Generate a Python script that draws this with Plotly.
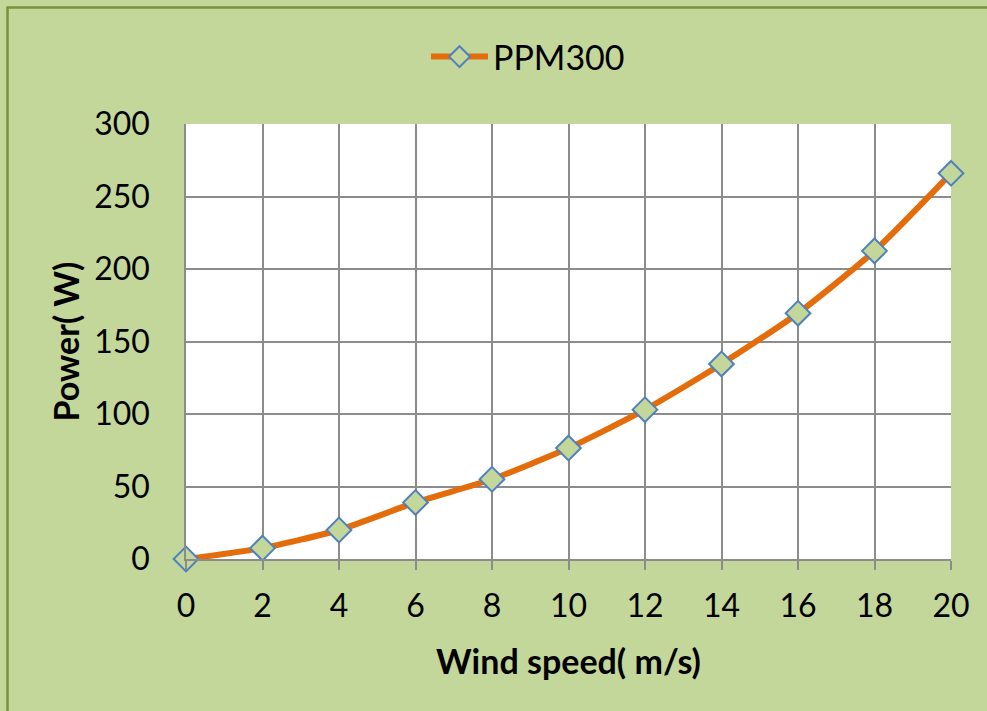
import plotly.graph_objects as go

wind_speed = [0, 2, 4, 6, 8, 10, 12, 14, 16, 18, 20]
power = [0, 7.5, 20, 39, 55, 76.5, 103, 134.5, 169.5, 212.5, 266]
series_name = "PPM300"

BG = "#c4d79b"
FONT = "Lato"

L, R, T, B = 186, 36, 124, 152
W, H = 987, 711
PW, PH = W - L - R, H - T - B

fig = go.Figure()
fig.add_trace(go.Scatter(
    x=wind_speed, y=power, name=series_name,
    mode="lines+markers",
    line=dict(color="#e46c0a", width=6, shape="spline", smoothing=0.6),
    marker=dict(symbol="diamond", size=19, color=BG,
                line=dict(color="#4f81bd", width=2)),
    cliponaxis=False,
))

fig.update_layout(
    width=W, height=H,
    margin=dict(l=L, r=R, t=T, b=B, autoexpand=False),
    paper_bgcolor=BG, plot_bgcolor="white",
    font=dict(family=FONT, size=32, color="black"),
    showlegend=True,
    legend=dict(orientation="h", xref="container", yref="container",
                x=426 / W, xanchor="left", y=1 - 57 / H, yanchor="middle",
                itemwidth=57,
                bgcolor="rgba(0,0,0,0)", font=dict(size=34)),
    xaxis=dict(
        range=[0, 20], tickvals=wind_speed, ticktext=[str(v) for v in wind_speed],
        showgrid=True, gridcolor="#8c8c8c", gridwidth=1.5,
        showline=True, linecolor="#8c8c8c", linewidth=1.5, mirror=False,
        ticks="outside", ticklen=9, tickcolor="#8c8c8c", tickwidth=1.5,
        ticklabelstandoff=9,
        zeroline=False, automargin=False,
        title=dict(text="<b>Wind speed( m/s)</b>", font=dict(size=34), standoff=27),
    ),
    yaxis=dict(
        range=[0, 300], tickvals=[0, 50, 100, 150, 200, 250, 300],
        showgrid=True, gridcolor="#8c8c8c", gridwidth=1.5,
        showline=True, linecolor="#8c8c8c", linewidth=1.5,
        ticks="", ticklabelstandoff=28,
        zeroline=False, automargin=False,
        title=dict(text="<b>Power( W)</b>", font=dict(size=34), standoff=4),
    ),
    shapes=[dict(type="rect", xref="paper", yref="paper",
                 x0=(7.5 - L) / PW, x1=1.2, y0=-0.6, y1=(H - B - 7.5) / PH,
                 line=dict(color="#77933c", width=2.5), fillcolor="rgba(0,0,0,0)",
                 layer="below")],
)

fig.write_html("out.html", config={"displayModeBar": False},
               post_script="document.body.style.margin='0';document.body.style.background='%s';" % BG)
